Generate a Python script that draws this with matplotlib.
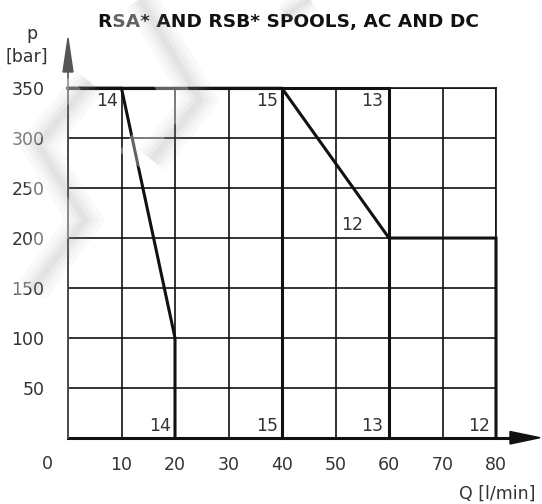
import matplotlib
matplotlib.use("Agg")
import matplotlib.pyplot as plt
from matplotlib.patches import Polygon
import numpy as np

# ---- data ----
x_ticks = [0, 10, 20, 30, 40, 50, 60, 70, 80]
y_ticks = [0, 50, 100, 150, 200, 250, 300, 350]
x_ticklabels = ["", "10", "20", "30", "40", "50", "60", "70", "80"]
y_ticklabels = ["", "50", "100", "150", "200", "250", "300", "350"]

curve14_q = [0, 10, 20, 20]
curve14_p = [350, 350, 100, 0]
curve15_q = [0, 40, 40]
curve15_p = [350, 350, 0]
curve13_q = [0, 60, 60]
curve13_p = [350, 350, 0]
curve12_q = [0, 40, 60, 80, 80]
curve12_p = [350, 350, 200, 200, 0]

# labels: (text, q, p)
top_labels = [("14", 9.4, 346), ("15", 39.2, 346), ("13", 58.9, 346)]
mid_labels = [("12", 55.2, 213)]
bottom_labels = [("14", 19.2, 3), ("15", 39.2, 3), ("13", 58.9, 3), ("12", 78.9, 3)]

title = "RSA* AND RSB* SPOOLS, AC AND DC"

W, H = 542, 504
plt.rcParams['font.family'] = ['DejaVu Sans']
FS = 12.5
TXT = "#333333"
fig = plt.figure(figsize=(W / 100, H / 100), dpi=100)

def px(x, y):
    return (x / W, 1 - y / H)

ax = fig.add_axes([68 / W, 1 - 437.7 / H, 428 / W, 349.4 / H])
ax.set_xlim(0, 80)
ax.set_ylim(0, 350)
ax.set_xticks(x_ticks)
ax.set_yticks(y_ticks)
ax.set_xticklabels(x_ticklabels)
ax.set_yticklabels(y_ticklabels)
ax.tick_params(length=0, labelsize=FS, labelcolor=TXT)
ax.tick_params(axis='y', pad=17)
ax.tick_params(axis='x', pad=13)
ax.grid(True, color="#111111", lw=1.2)
ax.set_axisbelow(True)
for s in ax.spines.values():
    s.set_color("#111111")
    s.set_linewidth(1.2)
ax.spines['bottom'].set_linewidth(2.2)

lw = 2.2
for q, p in [(curve14_q, curve14_p), (curve15_q, curve15_p),
             (curve13_q, curve13_p), (curve12_q, curve12_p)]:
    ax.plot(q, p, color="#111111", lw=lw, solid_joinstyle='miter', clip_on=False, zorder=3)

for t, q, p in top_labels:
    ax.text(q, p, t, ha='right', va='top', fontsize=FS, color=TXT)
for t, q, p in mid_labels:
    ax.text(q, p, t, ha='right', va='center', fontsize=FS, color=TXT)
for t, q, p in bottom_labels:
    ax.text(q, p, t, ha='right', va='bottom', fontsize=FS, color=TXT)

# origin label
fig.text(*px(47, 464), "0", ha='center', va='center', fontsize=FS, color=TXT)

# axis arrows
fig.add_artist(plt.Line2D([68 / W, 68 / W], [1 - 437.7 / H, 1 - 60 / H], color="#555555", lw=1.2, transform=fig.transFigure))
fig.add_artist(Polygon([px(68, 38), px(63, 72), px(73, 72)], closed=True, color="#555555", transform=fig.transFigure))
fig.add_artist(plt.Line2D([496 / W, 515 / W], [1 - 437.7 / H, 1 - 437.7 / H], color="#111111", lw=2.2, transform=fig.transFigure))
fig.add_artist(Polygon([px(540, 437.7), px(510, 431.5), px(510, 444)], closed=True, color="#111111", transform=fig.transFigure))

# axis titles
fig.text(*px(32, 34), "p", ha='center', va='center', fontsize=FS, color=TXT)
fig.text(*px(27, 57), "[bar]", ha='center', va='center', fontsize=FS, color=TXT)
fig.text(*px(497, 494), "Q [l/min]", ha='center', va='center', fontsize=FS, color=TXT)
fig.text(*px(288, 22), title, ha='center', va='center', fontsize=13.3, fontweight='bold', color="#111111")

# watermark (soft grey chevrons)
def soft_stroke(pts, base_w=12, color="0.6"):
    xs = [p[0] / W for p in pts]
    ys = [1 - p[1] / H for p in pts]
    for w, a in [(base_w * 2.0, 0.05), (base_w * 1.4, 0.06), (base_w * 0.9, 0.08), (base_w * 0.4, 0.09)]:
        fig.add_artist(plt.Line2D(xs, ys, color=color, lw=w, alpha=a,
                                  solid_joinstyle='miter', solid_capstyle='butt',
                                  transform=fig.transFigure, zorder=5))

def white_band(pts, w=20):
    xs = [p[0] / W for p in pts]
    ys = [1 - p[1] / H for p in pts]
    fig.add_artist(plt.Line2D(xs, ys, color="white", lw=w, alpha=0.35,
                              solid_joinstyle='miter', solid_capstyle='butt',
                              transform=fig.transFigure, zorder=5))

white_band([(112, -5), (178, 98), (130, 160)])
soft_stroke([(138, -5), (200, 100), (152, 160)])
white_band([(70, 80), (18, 145), (65, 220), (10, 290)])
soft_stroke([(90, 82), (38, 145), (85, 220), (32, 290)])
soft_stroke([(285, 16), (320, -8)], base_w=9)

fig.savefig("out.png", dpi=100)
